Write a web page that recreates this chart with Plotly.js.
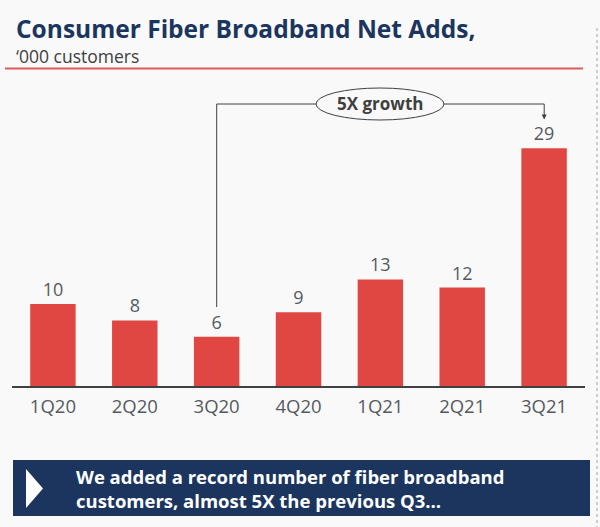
<!DOCTYPE html>
<html>
<head>
<meta charset="utf-8">
<script src="https://cdn.plot.ly/plotly-3.0.1.min.js"></script>
<style>
html,body{margin:0;padding:0;background:#f9f9f9;}
#chart{width:600px;height:527px;}
</style>
</head>
<body>
<div id="chart"></div>
<script>
const categories = ['1Q20','2Q20','3Q20','4Q20','1Q21','2Q21','3Q21'];
const netAdds = [10, 8, 6, 9, 13, 12, 29];
const titleText = 'Consumer Fiber Broadband Net Adds,';
const subtitleText = '\u2018000 customers';
const growthText = '5X growth';
const bannerLines = ['We added a record number of fiber broadband', 'customers, almost 5X the previous Q3\u2026'];

const W = 600, H = 527;
const M = {l: 12, r: 15, t: 90, b: 141};
const PW = W - M.l - M.r, PH = H - M.t - M.b;
const X = px => (px - M.l) / PW;
const Y = py => (H - M.b - py) / PH;

const FONT = '"Open Sans", "DejaVu Sans", sans-serif';
const NAVY = '#1b355f';
const GREY = '#404040';

const trace = {
  type: 'bar',
  x: categories,
  y: netAdds,
  marker: {color: '#e04743', line: {width: 0}},
  text: netAdds.map(String),
  textposition: 'outside',
  cliponaxis: false,
  textfont: {family: FONT, size: 18, color: '#555a60'},
  hoverinfo: 'skip'
};

const shapes = [
  {type:'line', xref:'paper', yref:'paper', x0:X(5), x1:X(583), y0:Y(68.5), y1:Y(68.5), line:{color:'#e05a5a', width:2}},
  {type:'line', xref:'paper', yref:'paper', x0:X(597), x1:X(597), y0:Y(28), y1:Y(527), line:{color:'#cfcfcf', width:2, dash:'dot'}},
  {type:'path', xref:'paper', yref:'paper',
   path:`M ${X(216.7)} ${Y(307)} L ${X(216.7)} ${Y(104)} L ${X(544.2)} ${Y(104)} L ${X(544.2)} ${Y(112)}`,
   line:{color:GREY, width:1}},
  {type:'circle', xref:'paper', yref:'paper', x0:X(316), x1:X(444), y0:Y(120), y1:Y(88), fillcolor:'#f9f9f9', line:{color:GREY, width:1}},
  {type:'rect', xref:'paper', yref:'paper', x0:X(13), x1:X(590), y0:Y(516), y1:Y(460), fillcolor:NAVY, line:{width:0}},
  {type:'path', xref:'paper', yref:'paper',
   path:`M ${X(26)} ${Y(469)} L ${X(43)} ${Y(488.5)} L ${X(26)} ${Y(508)} Z`,
   fillcolor:'#ffffff', line:{width:0}}
];

const annotations = [
  {xref:'paper', yref:'paper', x:X(14), y:Y(28), xanchor:'left', yanchor:'middle', showarrow:false,
   text:'<b>'+titleText+'</b>', font:{family:FONT, size:24.5, color:NAVY}},
  {xref:'paper', yref:'paper', x:X(14), y:Y(56), xanchor:'left', yanchor:'middle', showarrow:false,
   text:subtitleText, font:{family:FONT, size:17.5, color:GREY}},
  {xref:'paper', yref:'paper', x:X(380), y:Y(104), xanchor:'center', yanchor:'middle', showarrow:false,
   text:'<b>'+growthText+'</b>', font:{family:FONT, size:17, color:GREY}},
  {xref:'paper', yref:'paper', x:X(544.2), y:Y(119.5), showarrow:true, ax:0, ay:-9, text:'',
   arrowhead:2, arrowsize:1, arrowwidth:1, arrowcolor:GREY, standoff:0},
  {xref:'paper', yref:'paper', x:X(74), y:Y(488), xanchor:'left', yanchor:'middle', align:'left', showarrow:false,
   text:'<b>'+bannerLines.join('<br>')+'</b>', font:{family:FONT, size:18.5, color:'#ffffff'}}
];

const layout = {
  width: W, height: H,
  margin: M,
  paper_bgcolor: '#f9f9f9',
  plot_bgcolor: '#f9f9f9',
  showlegend: false,
  bargap: 0.445,
  xaxis: {
    type: 'category',
    showline: true, linecolor: '#404040', linewidth: 1.5,
    ticks: '', showgrid: false, zeroline: false,
    tickfont: {family: FONT, size: 18.5, color: '#555a60'},
    ticklabelstandoff: 3
  },
  yaxis: {
    range: [0, PH / 8.2],
    visible: false, showgrid: false, zeroline: false, fixedrange: true
  },
  shapes: shapes,
  annotations: annotations,
  font: {family: FONT}
};

Plotly.newPlot('chart', [trace], layout, {displayModeBar: false, staticPlot: true});
</script>
</body>
</html>
